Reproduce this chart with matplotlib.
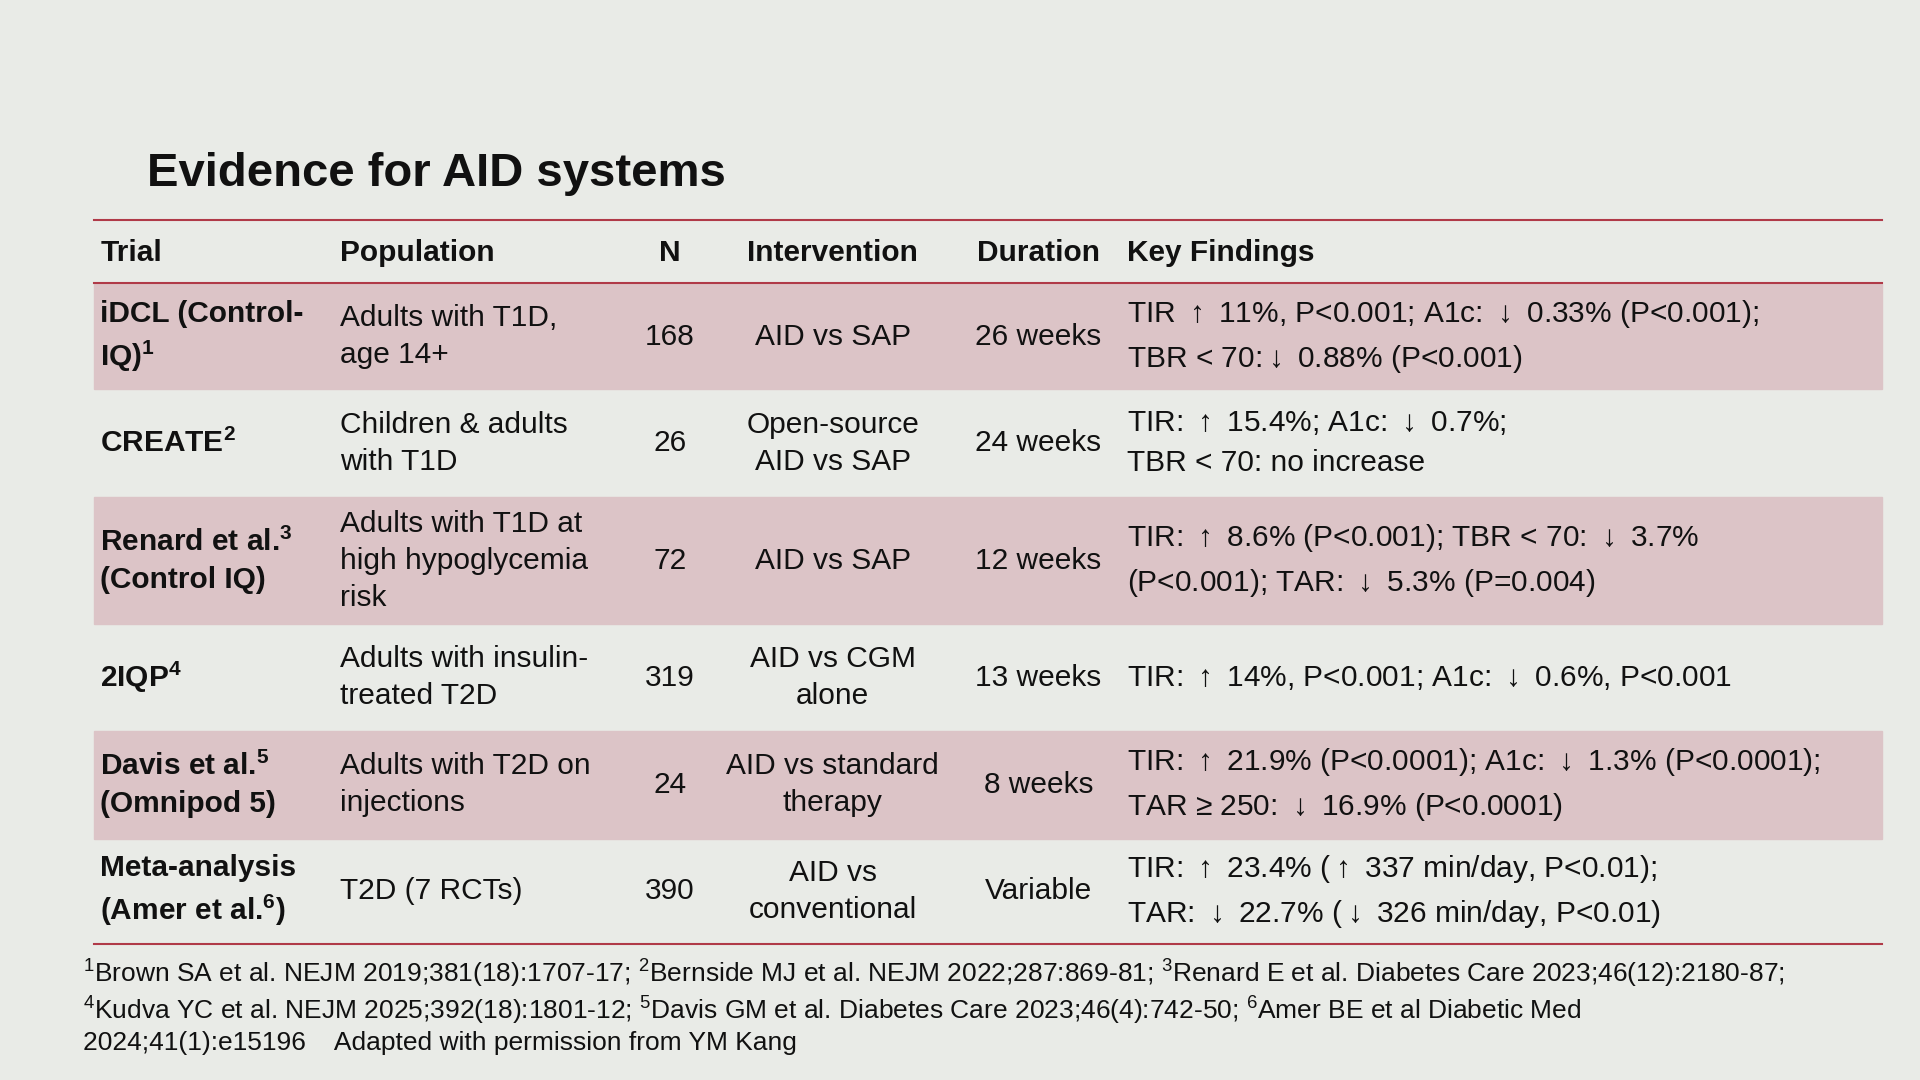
import matplotlib
matplotlib.use("Agg")
import matplotlib.pyplot as plt
from matplotlib.patches import Rectangle

plt.rcParams['font.family'] = ['Liberation Sans', 'DejaVu Sans']
plt.rcParams['mathtext.default'] = 'regular'

title = "Evidence for AID systems"
headers = ["Trial", "Population", "N", "Intervention", "Duration", "Key Findings"]
trials = ["iDCL (Control-\nIQ)$^1$", "CREATE$^2$", "Renard et al.$^3$\n(Control IQ)",
          "2IQP$^4$", "Davis et al.$^5$\n(Omnipod 5)", "Meta-analysis\n(Amer et al.$^6$)"]
populations = ["Adults with T1D,\nage 14+", "Children & adults\nwith T1D",
               "Adults with T1D at\nhigh hypoglycemia\nrisk", "Adults with insulin-\ntreated T2D",
               "Adults with T2D on\ninjections", "T2D (7 RCTs)"]
n_values = [168, 26, 72, 319, 24, 390]
interventions = ["AID vs SAP", "Open-source\nAID vs SAP", "AID vs SAP", "AID vs CGM\nalone",
                 "AID vs standard\ntherapy", "AID vs\nconventional"]
durations = ["26 weeks", "24 weeks", "12 weeks", "13 weeks", "8 weeks", "Variable"]
findings = ["TIR ↑ 11%, P<0.001; A1c: ↓ 0.33% (P<0.001);\nTBR < 70:↓ 0.88% (P<0.001)",
            "TIR: ↑ 15.4%; A1c: ↓ 0.7%;\nTBR < 70: no increase",
            "TIR: ↑ 8.6% (P<0.001); TBR < 70: ↓ 3.7%\n(P<0.001); TAR: ↓ 5.3% (P=0.004)",
            "TIR: ↑ 14%, P<0.001; A1c: ↓ 0.6%, P<0.001",
            "TIR: ↑ 21.9% (P<0.0001); A1c: ↓ 1.3% (P<0.0001);\nTAR ≥ 250: ↓ 16.9% (P<0.0001)",
            "TIR: ↑ 23.4% (↑ 337 min/day, P<0.01);\nTAR: ↓ 22.7% (↓ 326 min/day, P<0.01)"]
footnote = ("$^1$Brown SA et al. NEJM 2019;381(18):1707-17; $^2$Bernside MJ et al. NEJM 2022;287:869-81; "
            "$^3$Renard E et al. Diabetes Care 2023;46(12):2180-87;\n"
            "$^4$Kudva YC et al. NEJM 2025;392(18):1801-12; $^5$Davis GM et al. Diabetes Care 2023;46(4):742-50; "
            "$^6$Amer BE et al Diabetic Med\n2024;41(1):e15196    Adapted with permission from YM Kang")

# layout (reference pixel coordinates, 1568x882)
W, H = 1568, 882
row_edges = [232, 318, 406, 510, 597, 685, 771]
col_x = [82, 278, 547, 680, 848, 920]
col_ha = ["left", "left", "center", "center", "center", "left"]
red = "#b03a48"
shade = "#dcc4c7"

fig = plt.figure(figsize=(19.2, 10.8), dpi=100)
fig.patch.set_facecolor("#e9ebe7")

def fx(x): return x / W
def fy(y): return 1 - y / H

def arrows(s):
    return s.replace("↑", r"$\uparrow$").replace("↓", r"$\downarrow$")

fig.text(fx(120), fy(142), title, fontsize=34, fontweight="bold", va="center", color="#111111")

for i in range(6):
    if i % 2 == 0:
        fig.patches.append(Rectangle((fx(77), fy(row_edges[i + 1])), fx(1537) - fx(77),
                                     fy(row_edges[i]) - fy(row_edges[i + 1]),
                                     transform=fig.transFigure, color=shade, zorder=0))

for y in [180, 231, 771]:
    fig.add_artist(plt.Line2D([fx(77), fx(1537)], [fy(y), fy(y)], color=red, lw=1.5,
                              transform=fig.transFigure))

for x, ha, h in zip(col_x, col_ha, headers):
    fig.text(fx(x), fy(207), h, fontsize=21.5, fontweight="bold", ha=ha, va="center", color="#111111")

fs = 21.5
for i in range(6):
    yc = fy((row_edges[i] + row_edges[i + 1]) / 2)
    cells = [trials[i], populations[i], str(n_values[i]), interventions[i], durations[i],
             arrows(findings[i])]
    for j, (x, ha, s) in enumerate(zip(col_x, col_ha, cells)):
        fig.text(fx(x), yc, s, fontsize=fs, ha=ha, va="center", multialignment=ha,
                 fontweight="bold" if j == 0 else "normal", color="#111111",
                 linespacing=1.55 if j == 5 else 1.4)

fig.text(fx(68), fy(822), footnote, fontsize=19, ha="left", va="center",
         linespacing=1.2, color="#111111")

fig.savefig("out.png", dpi=100, facecolor=fig.get_facecolor())
